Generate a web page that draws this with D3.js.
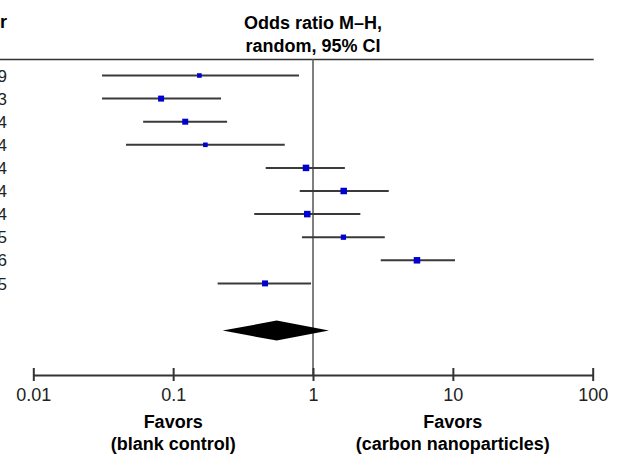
<!DOCTYPE html>
<html>
<head>
<meta charset="utf-8">
<script src="https://cdn.jsdelivr.net/npm/d3@7"></script>
<style>
  body { margin: 0; background: #fff; }
  svg { display: block; font-family: 'Liberation Sans', Arial, sans-serif; }
</style>
</head>
<body>
<div id="vis"></div>
<script>
// study labels (names are cut off at the left edge, only the years' last digit shows)
var studies = ['2009', '2013', '2014', '2014', '2014', '2014', '2014', '2015', '2016', '2015'];
var oddsRatio = [0.154, 0.082, 0.122, 0.170, 0.891, 1.658, 0.910, 1.65, 5.54, 0.454];
var ciLower = [0.031, 0.031, 0.061, 0.046, 0.459, 0.804, 0.380, 0.834, 3.05, 0.208];
var ciUpper = [0.794, 0.220, 0.243, 0.628, 1.69, 3.48, 2.18, 3.26, 10.36, 0.968];
var weights = [6.5, 11, 11, 6.5, 13, 13, 13, 8.5, 13, 11];

var pooledOR = 0.55,
	pooledLower = 0.226,
	pooledUpper = 1.30;

var tickValues = [0.01, 0.1, 1, 10, 100];
var tickLabels = ['0.01', '0.1', '1', '10', '100'];

var width = 620,
	height = 455;

var svg = d3.select('#vis')
	.append('svg')
	.attr('width', width)
	.attr('height', height);

var xScale = d3.scaleLog()
	.domain([0.01, 100])
	.range([33.3, 592.7]);

var yScale = d3.scaleLinear()
	.domain([0, 1])
	.range([75.5, 98.6]);

var sizeScale = d3.scaleSqrt()
	.domain([0, 13])
	.range([0, 6.5]);

var axisY = 375;

// header
svg.append('text')
	.attr('x', 7)
	.attr('y', 28)
	.attr('text-anchor', 'end')
	.attr('font-size', 18)
	.attr('font-weight', 'bold')
	.text('Author');

var title = svg.append('text')
	.attr('text-anchor', 'middle')
	.attr('font-size', 18)
	.attr('font-weight', 'bold');
title.append('tspan').attr('x', xScale(1)).attr('y', 29).text('Odds ratio M\u2013H,');
title.append('tspan').attr('x', xScale(1)).attr('y', 52).text('random, 95% CI');

svg.append('line')
	.attr('x1', 0)
	.attr('x2', xScale(100) + 1)
	.attr('y1', 59.5)
	.attr('y2', 59.5)
	.attr('stroke', '#333')
	.attr('stroke-width', 1.5);

// line of no effect
svg.append('line')
	.attr('x1', xScale(1))
	.attr('x2', xScale(1))
	.attr('y1', 59)
	.attr('y2', axisY)
	.attr('stroke', '#555')
	.attr('stroke-width', 1.5);

// study labels
svg.append('g')
	.attr('font-size', 17)
	.attr('text-anchor', 'end')
	.selectAll('text')
	.data(studies)
	.enter().append('text')
	.attr('x', 7)
	.attr('y', function(d, i) { return yScale(i); })
	.attr('dy', '0.36em')
	.attr('fill', '#222')
	.text(function(d) { return d; });

// confidence intervals
var rows = svg.append('g').selectAll('g')
	.data(oddsRatio)
	.enter().append('g');

rows.append('line')
	.attr('x1', function(d, i) { return xScale(ciLower[i]); })
	.attr('x2', function(d, i) { return xScale(ciUpper[i]); })
	.attr('y1', function(d, i) { return yScale(i); })
	.attr('y2', function(d, i) { return yScale(i); })
	.attr('stroke', '#3a3a3a')
	.attr('stroke-width', 2);

rows.append('rect')
	.attr('x', function(d, i) { return xScale(d) - sizeScale(weights[i]) / 2; })
	.attr('y', function(d, i) { return yScale(i) - sizeScale(weights[i]) / 2; })
	.attr('width', function(d, i) { return sizeScale(weights[i]); })
	.attr('height', function(d, i) { return sizeScale(weights[i]); })
	.attr('fill', '#0000d0');

// pooled diamond
var dy = yScale(11) + 1;
svg.append('path')
	.attr('d', 'M' + xScale(pooledLower) + ',' + dy +
		'L' + xScale(pooledOR) + ',' + (dy - 10) +
		'L' + xScale(pooledUpper) + ',' + dy +
		'L' + xScale(pooledOR) + ',' + (dy + 10) + 'Z')
	.attr('fill', '#000');

// axis
var xAxis = d3.axisBottom(xScale)
	.tickValues(tickValues)
	.tickFormat(function(d, i) { return tickLabels[i]; })
	.tickSizeOuter(0)
	.tickSizeInner(6)
	.tickPadding(7);

var axisG = svg.append('g')
	.attr('transform', 'translate(0,' + axisY + ')')
	.call(xAxis);

axisG.select('.domain')
	.attr('stroke', '#333')
	.attr('stroke-width', 2);

axisG.selectAll('.tick line')
	.attr('y1', -7)
	.attr('stroke', '#333')
	.attr('stroke-width', 2);

axisG.selectAll('.tick text')
	.attr('font-size', 18)
	.attr('font-family', "'Liberation Sans', Arial, sans-serif")
	.attr('fill', '#222');

// favors labels
var favors = [
	{ value: 0.1, lines: ['Favors', '(blank control)'] },
	{ value: 10, lines: ['Favors', '(carbon nanoparticles)'] }
];

favors.forEach(function(f) {
	var t = svg.append('text')
		.attr('text-anchor', 'middle')
		.attr('font-size', 18)
		.attr('font-weight', 'bold');
	f.lines.forEach(function(line, j) {
		t.append('tspan')
			.attr('x', xScale(f.value))
			.attr('y', 428 + j * 22)
			.text(line);
	});
});
</script>
</body>
</html>
